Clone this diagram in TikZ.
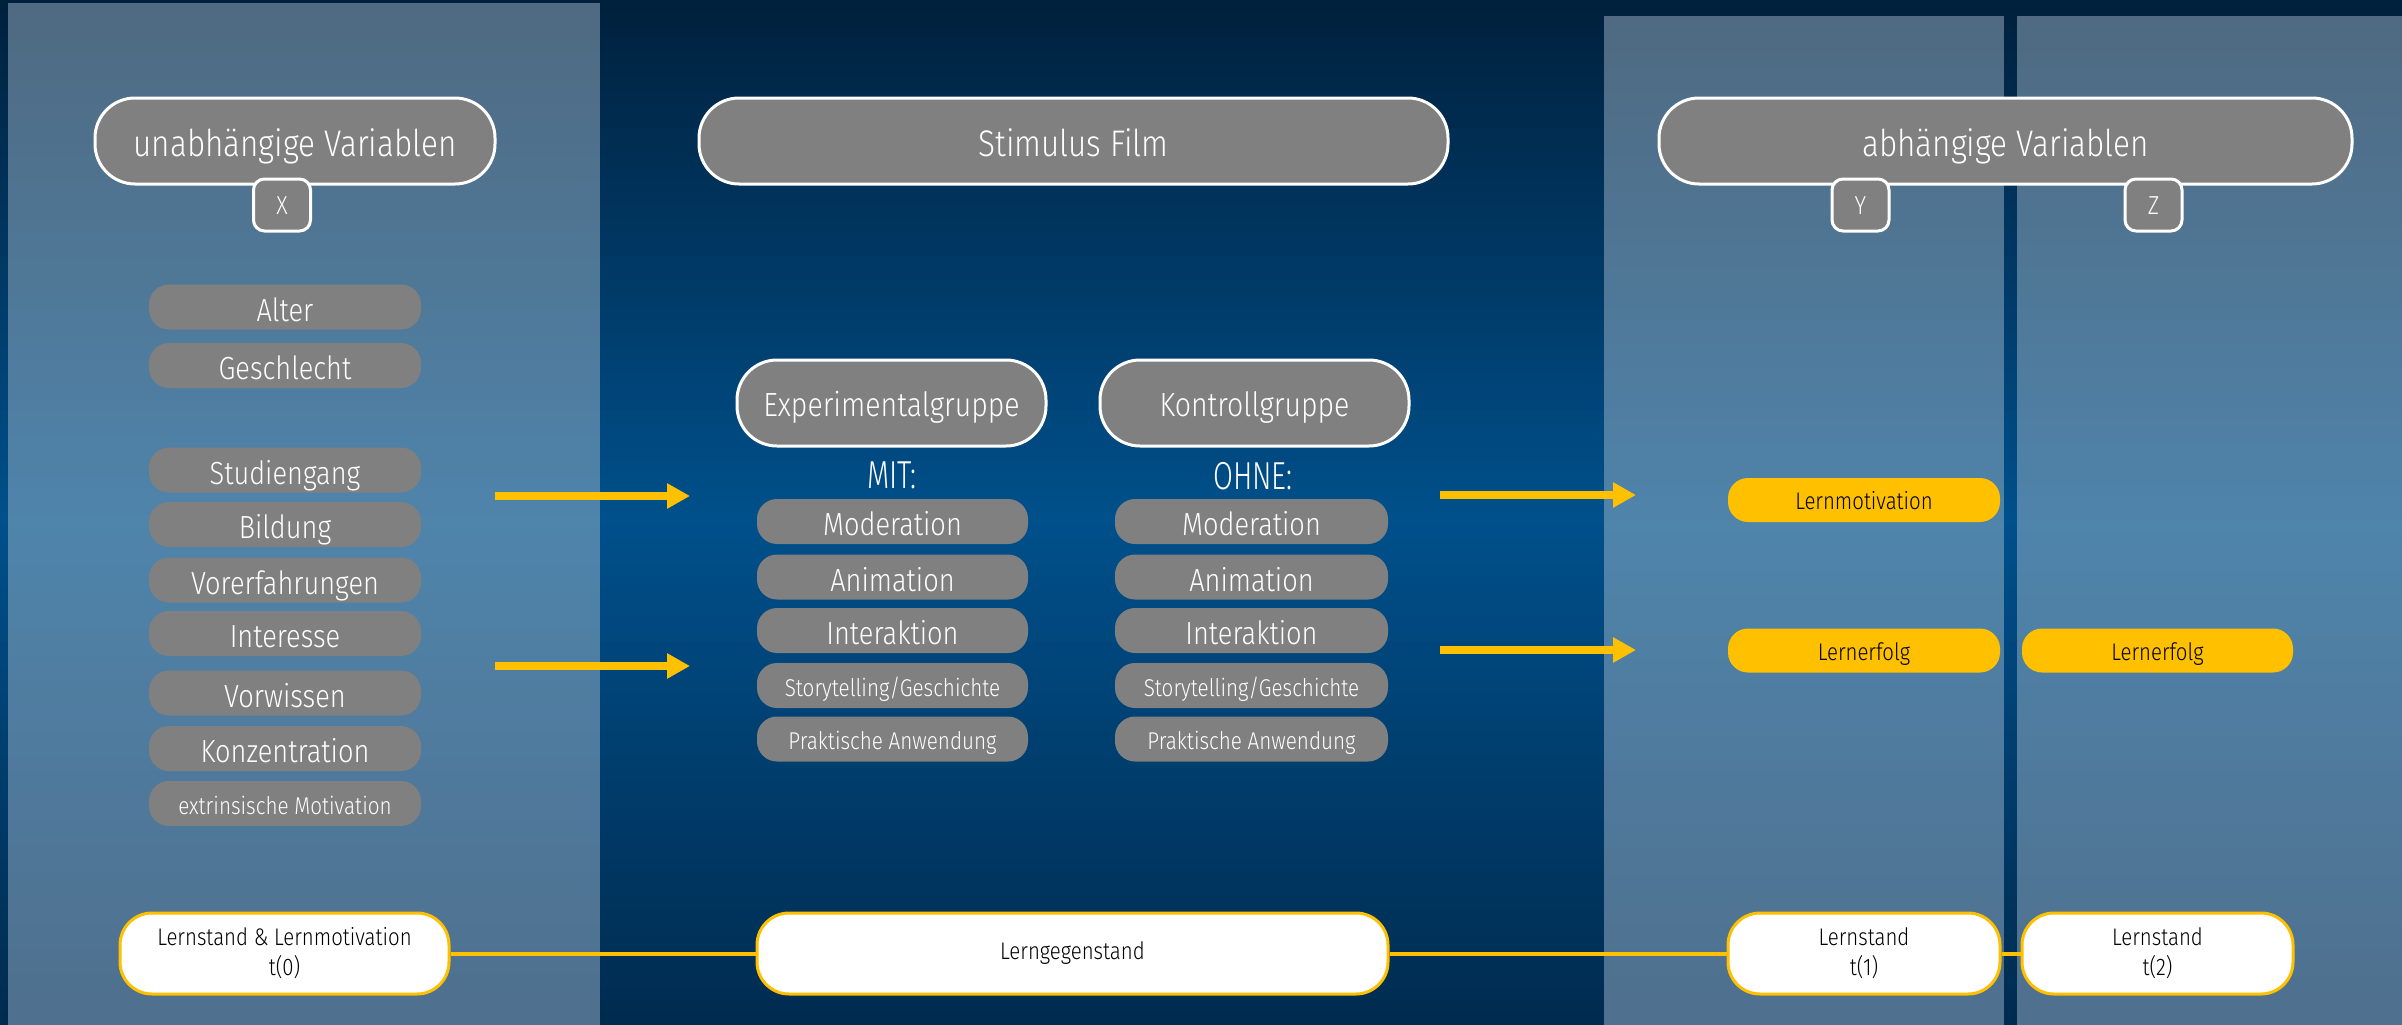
\documentclass[tikz,border=0pt]{standalone}
\usepackage{fontspec}
\setmainfont{Fira Sans Light}[FakeStretch=0.85]
\newfontfamily\narrowfont{Fira Sans Light}[FakeStretch=0.74]
\usetikzlibrary{arrows.meta}
\definecolor{bgtop}{HTML}{00213E}
\definecolor{bgmid}{HTML}{00508B}
\definecolor{bgbot}{HTML}{002A4E}
\definecolor{pntop}{HTML}{4F6A82}
\definecolor{pnmid}{HTML}{4F84AB}
\definecolor{pnbot}{HTML}{4F6F8D}
\definecolor{boxgray}{HTML}{808080}
\definecolor{gold}{HTML}{FFC000}
\newcommand{\fhead}{\fontsize{37}{42}\selectfont}
\newcommand{\fgroup}{\fontsize{33.5}{38}\selectfont}
\newcommand{\fitem}{\fontsize{32}{36}\selectfont}
\newcommand{\fsmall}{\fontsize{24.3}{28}\selectfont}
\newcommand{\fletter}{\fontsize{26}{28}\selectfont}
\newcommand{\fmit}{\narrowfont\fontsize{39}{42}\selectfont}
\newcommand{\fcond}{\fontsize{24}{30}\selectfont}
% vertical three-colour gradient made of thin strips
\newcommand{\vgrad}[7]{%
  \foreach \k in {0,...,79}{%
    \pgfmathsetmacro\ya{#2+(#4-#2)/80*\k}%
    \pgfmathsetmacro\yb{#2+(#4-#2)/80*(\k+1)+1}%
    \ifnum\k<40
      \pgfmathtruncatemacro\pp{\k*2.5}%
      \colorlet{gc}{#6!\pp!#5}%
    \else
      \pgfmathtruncatemacro\pp{(\k-40)*2.5}%
      \colorlet{gc}{#7!\pp!#6}%
    \fi
    \fill[gc] (#1,\ya) rectangle (#3,\yb);
  }%
}
\begin{document}
\begin{tikzpicture}[x=1pt,y=-1pt,
  headbox/.style={draw=white,line width=3pt,fill=boxgray,rounded corners=40pt,inner sep=0pt,text=white,font=\fhead,text height=30.5pt,text depth=0pt},
  groupbox/.style={headbox,font=\fgroup,text height=26pt},
  letterbox/.style={draw=white,line width=3pt,fill=boxgray,rounded corners=11pt,inner sep=0pt,minimum width=57pt,minimum height=52pt,text=white,font=\fletter,text height=19.5pt,text depth=0pt},
  itembox/.style={fill=boxgray,rounded corners=20pt,inner sep=0pt,minimum height=45pt,text=white,font=\fitem,text height=28pt,text depth=0pt},
  smallbox/.style={itembox,font=\fsmall,text height=21.7pt},
  yelbox/.style={fill=gold,rounded corners=20pt,inner sep=0pt,minimum height=44pt,text=black,font=\fcond,text height=19.5pt,text depth=0pt},
  whitebox/.style={fill=white,draw=gold,line width=3pt,rounded corners=32pt,inner sep=0pt,minimum height=81pt,text=black,font=\fcond,align=center},
  yarrow/.style={draw=gold,line width=8pt,-{Triangle[length=23pt,width=24pt]}},
  yline/.style={draw=gold,line width=4pt}]
\useasboundingbox (0,0) rectangle (2402,1025);
% background
\vgrad{0}{0}{2402}{1025}{bgtop}{bgmid}{bgbot}
% panels
\vgrad{8}{3}{600}{1025}{pntop}{pnmid}{pnbot}
\vgrad{1604}{16}{2004}{1025}{pntop}{pnmid}{pnbot}
\vgrad{2017}{16}{2402}{1025}{pntop}{pnmid}{pnbot}
% headings
\node[headbox,minimum width=400pt,minimum height=86pt] (uv) at (295,141) {unabhängige Variablen};
\node[letterbox] (X) at (282,205) {X};
\node[headbox,minimum width=749pt,minimum height=86pt] (sf) at (1073.5,141) {Stimulus Film};
\node[headbox,minimum width=693pt,minimum height=86pt] (av) at (2005.5,141) {abhängige Variablen};
\node[letterbox] (Y) at (1860.5,205) {Y};
\node[letterbox] (Z) at (2153.5,205) {Z};
% independent variables
\node[itembox,minimum width=272pt] (alter) at (285,307) {Alter};
\node[itembox,minimum width=272pt] (geschlecht) at (285,365.5) {Geschlecht};
\node[itembox,minimum width=272pt] (studiengang) at (285,470) {Studiengang};
\node[itembox,minimum width=272pt] (bildung) at (285,524.5) {Bildung};
\node[itembox,minimum width=272pt] (vorerf) at (285,580) {Vorerfahrungen};
\node[itembox,minimum width=272pt] (interesse) at (285,633.5) {Interesse};
\node[itembox,minimum width=272pt] (vorwissen) at (285,693) {Vorwissen};
\node[itembox,minimum width=272pt] (konz) at (285,748.5) {Konzentration};
\node[smallbox,minimum width=272pt] (extr) at (285,803.5) {extrinsische Motivation};
% groups
\node[groupbox,minimum width=309pt,minimum height=86pt] (exp) at (891.5,403) {Experimentalgruppe};
\node[groupbox,minimum width=309pt,minimum height=86pt] (kon) at (1254.5,403) {Kontrollgruppe};
\node[text=white,font=\fmit,inner sep=0pt] (mit) at (892,475) {MIT:};
\node[text=white,font=\fmit,inner sep=0pt] (ohne) at (1253,476) {OHNE:};
\node[itembox,minimum width=271pt] (emod) at (892.5,521.5) {Moderation};
\node[itembox,minimum width=271pt] (eani) at (892.5,577) {Animation};
\node[itembox,minimum width=271pt] (eint) at (892.5,630.5) {Interaktion};
\node[smallbox,minimum width=271pt] (esto) at (892.5,685.5) {Storytelling/Geschichte};
\node[smallbox,minimum width=271pt] (epra) at (892.5,739) {Praktische Anwendung};
\node[itembox,minimum width=273pt] (kmod) at (1251.5,521.5) {Moderation};
\node[itembox,minimum width=273pt] (kani) at (1251.5,577) {Animation};
\node[itembox,minimum width=273pt] (kint) at (1251.5,630.5) {Interaktion};
\node[smallbox,minimum width=273pt] (ksto) at (1251.5,685.5) {Storytelling/Geschichte};
\node[smallbox,minimum width=273pt] (kpra) at (1251.5,739) {Praktische Anwendung};
% dependent variables
\node[yelbox,minimum width=272pt] (lm) at (1864,500) {Lernmotivation};
\node[yelbox,minimum width=272pt] (le1) at (1864,650.5) {Lernerfolg};
\node[yelbox,minimum width=271pt] (le2) at (2157.5,650.5) {Lernerfolg};
% arrows
\coordinate (a1s) at (495,496); \coordinate (a1e) at (690,496);
\coordinate (a2s) at (495,666); \coordinate (a2e) at (690,666);
\coordinate (a3s) at (1440,495); \coordinate (a3e) at (1636,495);
\coordinate (a4s) at (1440,650); \coordinate (a4e) at (1636,650);
\draw[yarrow] (a1s) -- (a1e);
\draw[yarrow] (a2s) -- (a2e);
\draw[yarrow] (a3s) -- (a3e);
\draw[yarrow] (a4s) -- (a4e);
% bottom row
\node[whitebox,minimum width=329pt] (t0) at (284.5,953.5) {Lernstand \& Lernmotivation\\t(0)};
\node[whitebox,minimum width=631pt] (lg) at (1072.5,953.5) {Lerngegenstand};
\node[whitebox,minimum width=272pt] (t1) at (1864,953.5) {Lernstand\\t(1)};
\node[whitebox,minimum width=271pt] (t2) at (2157.5,953.5) {Lernstand\\t(2)};
\draw[yline] (t0.east) -- (lg.west);
\draw[yline] (lg.east) -- (t1.west);
\draw[yline] (t1.east) -- (t2.west);
\end{tikzpicture}
\end{document}
